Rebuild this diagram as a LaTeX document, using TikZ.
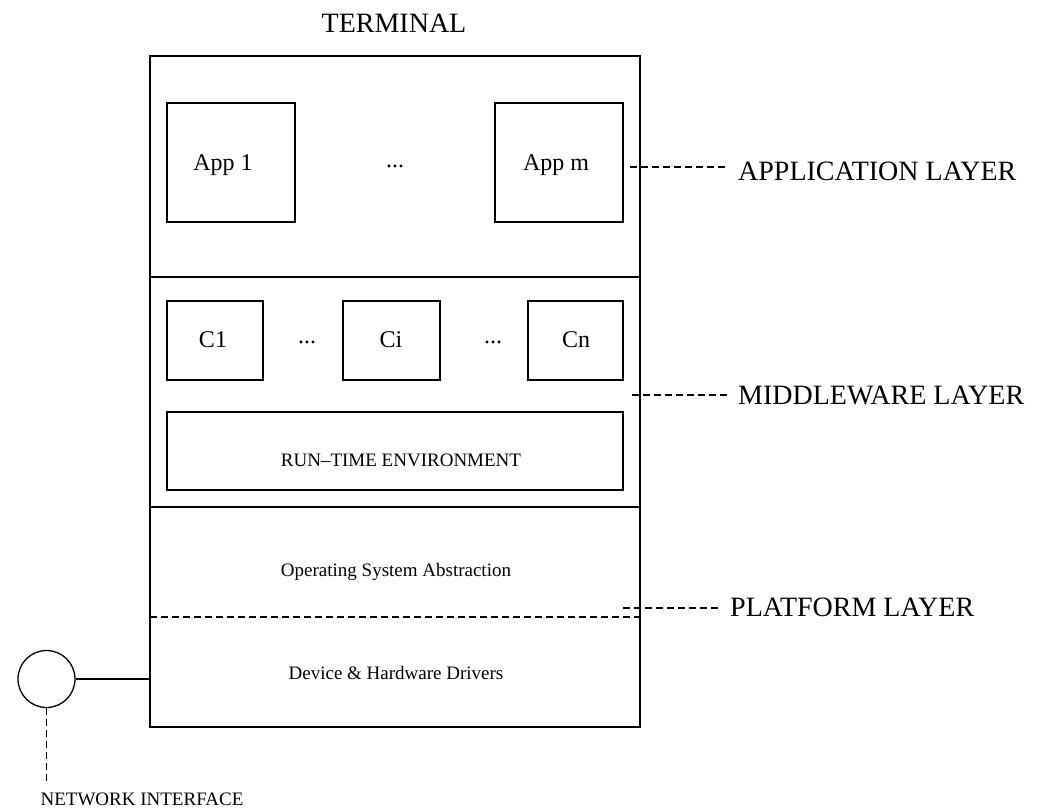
\documentclass[tikz,border=0pt]{standalone}
\usepackage{fontspec}
\setmainfont{Liberation Serif}
\begin{document}
\begin{tikzpicture}[x=1pt,y=-1pt,
  box/.style={draw, line width=1.3pt, inner sep=0pt, outer sep=0pt, anchor=north west},
  big/.style={font=\fontsize{28}{30}\selectfont, inner sep=0pt},
  layerlbl/.style={big, anchor=west, inner xsep=10pt},
  mid/.style={font=\fontsize{24}{26}\selectfont, inner sep=0pt},
  small/.style={font=\fontsize{19}{21}\selectfont, inner sep=0pt},
  dashline/.style={dash pattern=on 7pt off 4pt, line width=1.2pt}]
\useasboundingbox (0,0) rectangle (1048,808);

% title
\node[big] (term) at (394,23) {TERMINAL};

% layers
\node[box, minimum width=490pt, minimum height=221pt] (app) at (150,56) {};
\node[box, minimum width=490pt, minimum height=230pt] (mw) at (150,277) {};
\node[box, minimum width=490pt, minimum height=220pt] (plat) at (150,507) {};

% application layer
\node[box, minimum width=128pt, minimum height=119pt] (app1) at (167,103) {};
\node[mid] (app1t) at (223,165) {App 1};
\node[box, minimum width=128pt, minimum height=119pt] (appm) at (495,103) {};
\node[mid] (appmt) at (556,165) {App m};
\node[mid] (appdots) at (395,166) {...};

% middleware layer
\node[box, minimum width=96pt, minimum height=79pt] (c1) at (167,301) {};
\node[mid] (c1t) at (213,340) {C1};
\node[box, minimum width=97pt, minimum height=79pt] (ci) at (343,301) {};
\node[mid] (cit) at (391,340) {Ci};
\node[box, minimum width=95pt, minimum height=79pt] (cn) at (528,301) {};
\node[mid] (cnt) at (576,340) {Cn};
\node[mid] (cdots1) at (307,342) {...};
\node[mid] (cdots2) at (493,342) {...};
\node[box, minimum width=456pt, minimum height=78pt] (rte) at (167,412) {};
\node[small] (rtet) at (401,460) {RUN--TIME ENVIRONMENT};

% platform layer
\node[small] (ost) at (396,572) {Operating System Abstraction};
\node[small] (drv) at (396,673) {Device \& Hardware Drivers};
\draw[dashline] (plat.west) -- (plat.east);

% layer labels
\node[layerlbl] (applbl) at (728,171) {APPLICATION LAYER};
\coordinate (appl0) at (630,167);
\draw[dashline] (appl0) -- (applbl.west |- appl0);

\node[layerlbl] (mwlbl) at (728,395) {MIDDLEWARE LAYER};
\coordinate (mwl0) at (632,395);
\draw[dashline] (mwl0) -- (mwlbl.west |- mwl0);

\node[layerlbl] (platlbl) at (720,607) {PLATFORM LAYER};
\coordinate (pl0) at (623,608);
\draw[dashline] (pl0) -- (platlbl.west |- pl0);

% network interface
\node[draw, circle, line width=1.3pt, minimum size=57pt, inner sep=0pt] (ni) at (46.5,679) {};
\draw[line width=1.3pt] (ni.east) -- (ni.east -| plat.west);
\node[small] (nilbl) at (142,799) {NETWORK INTERFACE};
\coordinate (nid) at (46.5,782);
\draw[dashline] (ni.south) -- (nid);
\end{tikzpicture}
\end{document}
